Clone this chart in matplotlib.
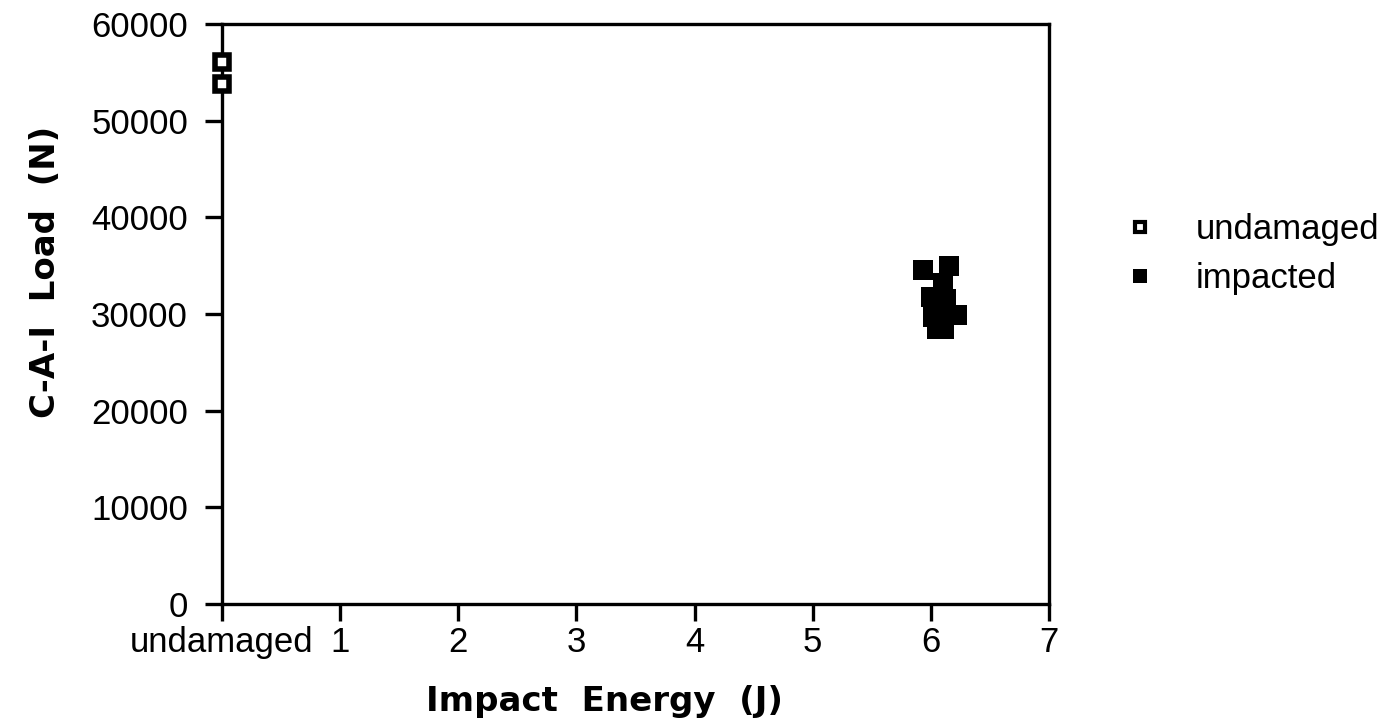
import matplotlib
matplotlib.use('Agg')
import matplotlib.pyplot as plt
from matplotlib.lines import Line2D

plt.rcParams['font.family'] = ['Liberation Sans', 'DejaVu Sans']

# undamaged specimens (plotted at energy 0)
undamaged_energy = [0.0, 0.0]
undamaged_load = [56100, 53800]

# impacted specimens, all around 6 J
impacted_energy = [5.93, 6.15, 6.10, 6.00, 6.13, 6.02, 6.10, 6.22, 6.05, 6.11]
impacted_load = [34600, 35000, 33200, 31800, 31500, 29700, 30400, 29850, 28400, 28400]

xticks = [0, 1, 2, 3, 4, 5, 6, 7]
xtick_labels = ['undamaged', '1', '2', '3', '4', '5', '6', '7']
yticks = [0, 10000, 20000, 30000, 40000, 50000, 60000]

fig = plt.figure(figsize=(13.87, 7.27), dpi=100)
ax = fig.add_axes([222 / 1387, 1 - 604 / 727, (1049 - 222) / 1387, (604 - 24) / 727])

ax.plot(impacted_energy, impacted_load, 's', ms=14.4, mfc='black', mec='black', mew=0,
        clip_on=False, zorder=3)
ax.plot(undamaged_energy, undamaged_load, 's', ms=10, mfc='white', mec='black', mew=4,
        clip_on=False, zorder=4)

ax.set_xlim(0, 7)
ax.set_ylim(0, 60000)
ax.set_xticks(xticks)
ax.set_xticklabels(xtick_labels)
ax.set_yticks(yticks)

for s in ax.spines.values():
    s.set_linewidth(2.4)
ax.tick_params(direction='out', length=12.5, width=2.4, labelsize=25, colors='black')
ax.tick_params(axis='y', pad=12)
ax.tick_params(axis='x', pad=3)

lab_font = dict(family='DejaVu Sans', fontsize=24.5, fontweight='bold')
ax.set_xlabel('Impact  Energy  (J)', **lab_font)
ax.set_ylabel('C-A-I  Load  (N)', **lab_font)
ax.xaxis.set_label_coords(0.463, -0.14)
ax.yaxis.set_label_coords(-0.194, 0.572)

handles = [
    Line2D([], [], ls='none', marker='s', ms=7.5, mfc='white', mec='black', mew=3),
    Line2D([], [], ls='none', marker='s', ms=10.5, mfc='black', mec='black', mew=0),
]
fig.legend(handles, ['undamaged', 'impacted'], loc='upper left',
           bbox_to_anchor=(1088 / 1387, 1 - 196 / 727), frameon=False,
           fontsize=25, borderpad=0, handlelength=2.0, handletextpad=0.6,
           labelspacing=0.45)

fig.savefig('out.png', dpi=100)
